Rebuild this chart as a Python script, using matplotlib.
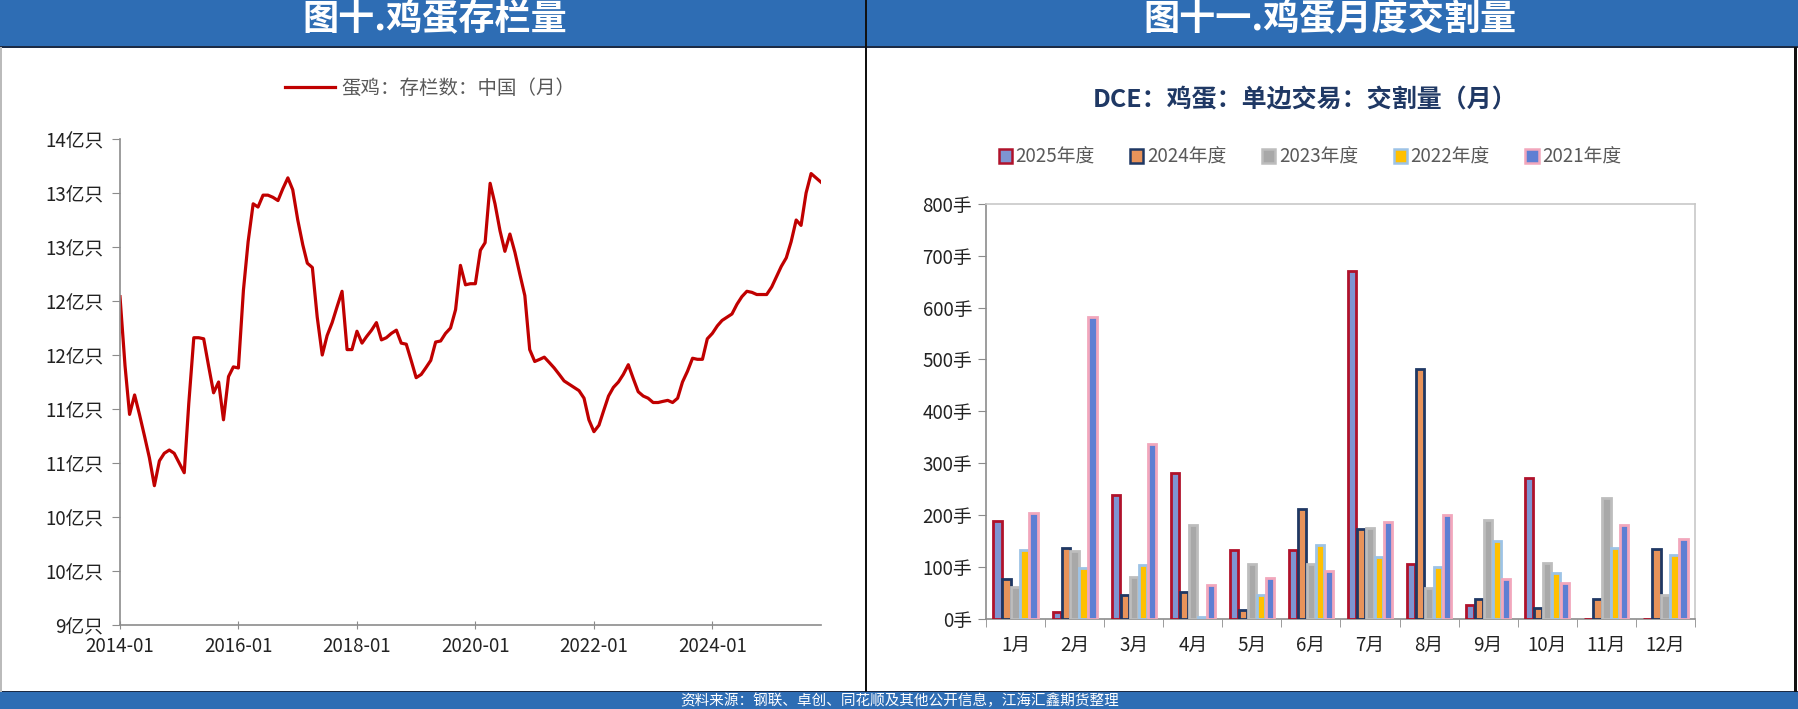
import matplotlib
matplotlib.use("Agg")
import matplotlib.pyplot as plt
from matplotlib.patches import Rectangle, Patch
import numpy as np
import pandas as pd

plt.rcParams['font.family'] = ['Noto Sans CJK SC', 'DejaVu Sans']

# 蛋鸡存栏 (亿只), monthly from 2014-01
stock_start = "2014-01"
stock = [12.24, 11.60, 11.15, 11.33, 11.15, 10.95, 10.75, 10.49, 10.72, 10.79,
         10.82, 10.79, 10.70, 10.61, 11.25, 11.86, 11.86, 11.85, 11.60, 11.35,
         11.45, 11.10, 11.50, 11.59, 11.58, 12.30, 12.75, 13.10, 13.07, 13.18,
         13.18, 13.16, 13.13, 13.24, 13.34, 13.23, 12.95, 12.72, 12.55, 12.51,
         12.05, 11.70, 11.88, 12.00, 12.15, 12.29, 11.75, 11.75, 11.92, 11.81,
         11.87, 11.93, 12.00, 11.84, 11.86, 11.90, 11.93, 11.81, 11.80, 11.65,
         11.49, 11.52, 11.58, 11.65, 11.82, 11.83, 11.90, 11.95, 12.12, 12.53,
         12.35, 12.36, 12.36, 12.67, 12.74, 13.29, 13.10, 12.85, 12.66, 12.82,
         12.65, 12.45, 12.25, 11.75, 11.64, 11.66, 11.68, 11.63, 11.58, 11.52,
         11.46, 11.43, 11.40, 11.37, 11.30, 11.10, 10.99, 11.05, 11.18, 11.32,
         11.40, 11.45, 11.52, 11.61, 11.48, 11.36, 11.32, 11.30, 11.26, 11.26,
         11.27, 11.28, 11.26, 11.30, 11.45, 11.55, 11.67, 11.66, 11.66, 11.85,
         11.90, 11.97, 12.02, 12.05, 12.08, 12.17, 12.24, 12.29, 12.28, 12.26,
         12.26, 12.26, 12.33, 12.43, 12.52, 12.60, 12.75, 12.95, 12.90, 13.20,
         13.38, 13.34, 13.30]
stock_ticks = [9.2, 9.7, 10.2, 10.7, 11.2, 11.7, 12.2, 12.7, 13.2, 13.7]
date_ticks = ["2014-01", "2016-01", "2018-01", "2020-01", "2022-01", "2024-01"]

# DCE 鸡蛋交割量 (手)
months = ["1月", "2月", "3月", "4月", "5月", "6月", "7月", "8月", "9月", "10月", "11月", "12月"]
years = ["2025年度", "2024年度", "2023年度", "2022年度", "2021年度"]
d2025 = [188, 13, 238, 280, 133, 133, 670, 106, 26, 272, 0, 0]
d2024 = [76, 136, 45, 51, 17, 211, 172, 481, 37, 20, 37, 134]
d2023 = [61, 131, 80, 180, 106, 106, 174, 58, 191, 107, 232, 45]
d2022 = [133, 97, 103, 2, 45, 142, 119, 100, 150, 87, 137, 122]
d2021 = [203, 582, 336, 64, 79, 91, 187, 200, 76, 68, 180, 153]
series = [d2025, d2024, d2023, d2022, d2021]
faces = ["#7E95D2", "#E8935A", "#A8A8A8", "#FFC000", "#5E7FD3"]
edges = ["#B0122B", "#1F3864", "#BDBDBD", "#9DC3E6", "#F2A7BC"]

W, H = 1798, 709
fig = plt.figure(figsize=(W / 100, H / 100), dpi=100)
blue = "#2E6DB4"


def fx(px):
    return px / W


def fy(py):
    return 1 - py / H


# header and footer bands
fig.patches.append(Rectangle((0, fy(46)), 1, 46 / H, transform=fig.transFigure,
                             facecolor=blue, edgecolor="none", zorder=0))
fig.patches.append(Rectangle((0, fy(48)), 1, 2.5 / H, transform=fig.transFigure,
                             facecolor="#1C2B45", edgecolor="none", zorder=1))
fig.patches.append(Rectangle((0, 0), 1, (H - 691) / H, transform=fig.transFigure,
                             facecolor=blue, edgecolor="none", zorder=0))
fig.patches.append(Rectangle((0, fy(692)), 1, 1.5 / H, transform=fig.transFigure,
                             facecolor="#1C2B45", edgecolor="none", zorder=1))
fig.patches.append(Rectangle((fx(865), fy(692)), 1.6 / W, 692 / H, transform=fig.transFigure,
                             facecolor="#111111", edgecolor="none", zorder=2))
fig.patches.append(Rectangle((fx(1794), fy(692)), 2.5 / W, 645 / H, transform=fig.transFigure,
                             facecolor="#111111", edgecolor="none", zorder=2))
fig.patches.append(Rectangle((0, fy(692)), 2 / W, 645 / H, transform=fig.transFigure,
                             facecolor="#BBBBBB", edgecolor="none", zorder=2))

fig.text(fx(435), fy(20), "图十.鸡蛋存栏量", color="white", fontsize=26,
         fontweight="bold", ha="center", va="center")
fig.text(fx(1330), fy(20), "图十一.鸡蛋月度交割量", color="white", fontsize=26,
         fontweight="bold", ha="center", va="center")
fig.text(fx(900), fy(701), "资料来源：钢联、卓创、同花顺及其他公开信息，江海汇鑫期货整理",
         color="white", fontsize=10.5, ha="center", va="center")

# left chart: stock
ax1 = fig.add_axes([fx(120), fy(625), (821 - 120) / W, (625 - 139) / H])
dates = pd.date_range(stock_start, periods=len(stock), freq="MS")
ax1.plot(dates, stock, color="#C00000", lw=2.3, label="蛋鸡：存栏数：中国（月）")
ax1.set_ylim(9.2, 13.7)
ax1.set_yticks(stock_ticks)
ax1.set_yticklabels([f"{round(v)}亿只" for v in stock_ticks])
ax1.set_xlim(dates[0], dates[-1])
ax1.set_xticks(pd.to_datetime(date_ticks))
ax1.set_xticklabels(date_ticks)
for s in ["top", "right"]:
    ax1.spines[s].set_visible(False)
for s in ["left", "bottom"]:
    ax1.spines[s].set_color("#8C8C8C")
    ax1.spines[s].set_linewidth(1.2)
ax1.tick_params(axis="y", direction="out", length=6, color="#8C8C8C", labelsize=13.5,
                labelcolor="#222222", pad=6)
ax1.tick_params(axis="x", direction="inout", length=6, color="#8C8C8C", labelsize=13.5,
                labelcolor="#222222", pad=5)
ax1.legend(loc="center", bbox_to_anchor=(fx(430), fy(88)), bbox_transform=fig.transFigure,
           frameon=False, fontsize=14, labelcolor="#595959", handlelength=2.6,
           handletextpad=0.3)

# right chart: delivery bars
ax2 = fig.add_axes([fx(986), fy(618.5), (1695 - 986) / W, (618.5 - 204) / H])
x = np.arange(len(months))
w = 0.152
for i, (vals, fc, ec, lab) in enumerate(zip(series, faces, edges, years)):
    ax2.bar(x + (i - 2) * w, vals, width=w * 0.92, facecolor=fc, edgecolor=ec,
            linewidth=2.0, label=lab, zorder=3)
ax2.set_xlim(-0.5, len(months) - 0.5)
ax2.set_ylim(0, 800)
ax2.set_yticks(np.arange(0, 801, 100))
ax2.set_yticklabels([f"{v}手" for v in range(0, 801, 100)])
ax2.set_xticks(x)
ax2.set_xticklabels(months)
ax2.set_xticks(np.arange(-0.5, len(months), 1), minor=True)
ax2.tick_params(axis="x", which="major", length=0, labelsize=13.5, labelcolor="#222222", pad=12)
ax2.tick_params(axis="x", which="minor", direction="out", length=6, color="#8C8C8C")
ax2.tick_params(axis="y", direction="out", length=6, color="#8C8C8C", labelsize=13.5,
                labelcolor="#222222", pad=4)
for s in ["left", "bottom"]:
    ax2.spines[s].set_color("#8C8C8C")
    ax2.spines[s].set_linewidth(1.2)
for s in ["top", "right"]:
    ax2.spines[s].set_color("#C8C8C8")
    ax2.spines[s].set_linewidth(1.2)

handles = [Patch(facecolor=fc, edgecolor=ec, linewidth=1.8) for fc, ec in zip(faces, edges)]
ax2.legend(handles, years, loc="center", bbox_to_anchor=(fx(1310), fy(157)),
           bbox_transform=fig.transFigure, ncol=5, frameon=False, fontsize=13.5,
           labelcolor="#595959", handlelength=0.7, handleheight=0.8,
           handletextpad=0.2, columnspacing=1.9)
fig.text(fx(1305), fy(100), "DCE：鸡蛋：单边交易：交割量（月）", color="#1F3864",
         fontsize=18, fontweight="bold", ha="center", va="center")

fig.savefig("out.png", dpi=100)
